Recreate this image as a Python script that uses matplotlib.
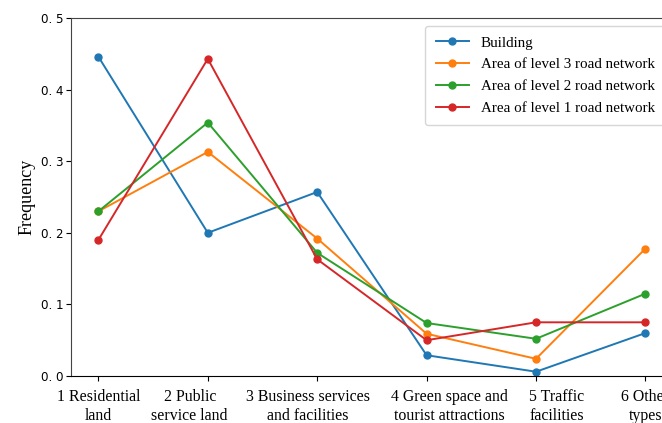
import numpy as np
import matplotlib.pyplot as plt
from matplotlib.transforms import ScaledTranslation

categories = ['1 Residential\nland', '2 Public\nservice land', '3 Business services\nand facilities',
              '4 Green space and\ntourist attractions', '5 Traffic\nfacilities', '6 Other\ntypes']
building = [0.446, 0.200, 0.257, 0.029, 0.006, 0.060]
level3 = [0.230, 0.313, 0.192, 0.059, 0.024, 0.178]
level2 = [0.230, 0.354, 0.172, 0.074, 0.052, 0.115]
level1 = [0.190, 0.443, 0.163, 0.050, 0.075, 0.075]
yticks = [0.0, 0.1, 0.2, 0.3, 0.4, 0.5]
ytick_labels = ['0. 0', '0. 1', '0. 2', '0. 3', '0. 4', '0. 5']
# sideways nudge of each category label (points) so the long ones don't collide
label_shift = [0, -13, -6.5, 16.5, 15, 0]

serif = 'Liberation Serif'

fig = plt.figure(figsize=(6.62, 4.23), dpi=100)
# the axes run a little past the right edge of the figure
ax = fig.add_axes([0.1073, 0.1111, 0.909, 0.8463])

x = np.arange(len(categories))
ax.plot(x, building, '-o', color='#1f77b4', lw=1.4, ms=5, label='Building')
ax.plot(x, level3, '-o', color='#ff7f0e', lw=1.4, ms=5, label='Area of level 3 road network')
ax.plot(x, level2, '-o', color='#2ca02c', lw=1.4, ms=5, label='Area of level 2 road network')
ax.plot(x, level1, '-o', color='#d62728', lw=1.4, ms=5, label='Area of level 1 road network')

ax.set_xlim(-0.25, 5.25)
ax.set_ylim(0, 0.5)
ax.set_xticks(x)
ax.set_xticklabels(categories, fontfamily=serif, fontsize=11.4, linespacing=1.22)
ax.set_yticks(yticks)
ax.set_yticklabels(ytick_labels, fontsize=8.6)
ax.tick_params(axis='y', pad=2)
ax.tick_params(axis='x', pad=6)
ax.set_ylabel('Frequency', fontfamily=serif, fontsize=13, labelpad=3.5)

for lab, dx in zip(ax.get_xticklabels(), label_shift):
    lab.set_transform(lab.get_transform() + ScaledTranslation(dx / 72, 0, fig.dpi_scale_trans))

for s in ['left', 'top']:
    ax.spines[s].set_color('#444444')

ax.legend(loc='upper right', prop={'family': serif, 'size': 10.8},
          labelspacing=0.55, handlelength=2.2, borderpad=0.7, frameon=True)

plt.savefig('out.png', dpi=100)
